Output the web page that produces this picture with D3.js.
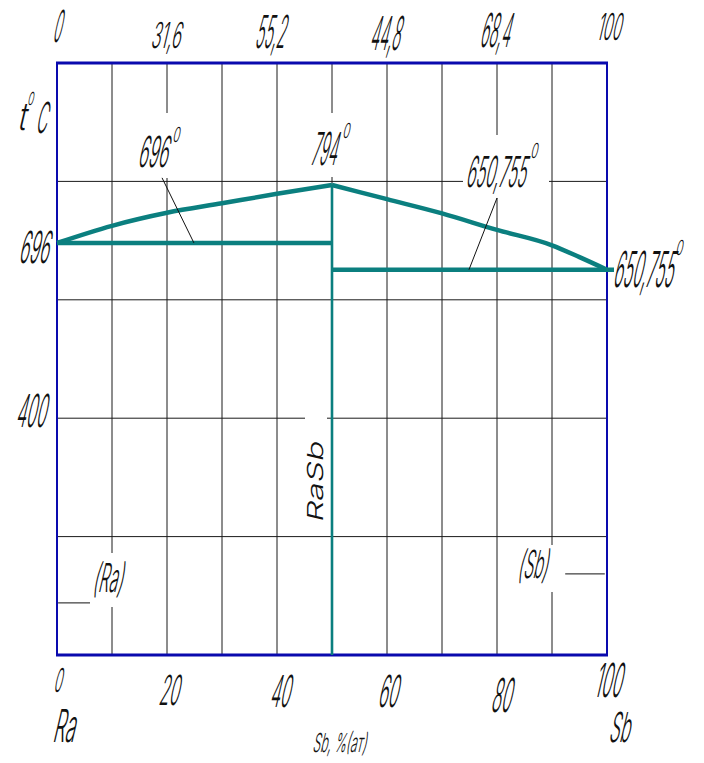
<!DOCTYPE html>
<html>
<head>
<meta charset="utf-8">
<script src="https://cdn.jsdelivr.net/npm/d3@7/dist/d3.min.js"></script>
<style>
  html, body { margin: 0; padding: 0; background: #fff; }
  svg { display: block; }
  .lbl { font-family: Inter, Roboto, "Open Sans", sans-serif; font-weight: 300; fill: #111; }
</style>
</head>
<body>
<svg id="chart" width="704" height="763"></svg>
<script>
// Ra–Sb phase diagram: composition in at.% Sb, temperature in °C

// Composition ticks (bottom, at.%) and the matching top labels (wt.%)
const compTicks = [0, 20, 40, 60, 80, 100];
const bottomTickLabels = ["0", "20", "40", "60", "80", "100"];
const topTickLabels = ["0", "31,6", "55,2", "44,8", "68,4", "100"];

// Temperature grid and labelled temperatures
const tempGrid = [200, 400, 600, 800];
const tempTickValues = [696, 400];
const tempTickLabels = ["696", "400"];

// Liquidus, Ra side to the RaSb maximum
const liqLeftSb = [0, 10, 20, 30, 40, 50];
const liqLeftT  = [696, 725, 747, 763, 779, 794];
// Liquidus, RaSb maximum to the Sb side
const liqRightSb = [50, 60, 70, 80, 90, 95, 100];
const liqRightT  = [794, 770, 746, 718, 692, 672, 650.755];

// Invariant horizontals and the congruent compound RaSb
const eutecticLeft = { from: 0, to: 50, t: 696 };
const eutecticRight = { from: 50, to: 100, t: 650.755 };
const compoundSb = 50;
const compoundTop = 794;

// Leader lines for the temperature callouts and phase fields
const leader696 = [[19.1, 806], [24.9, 696]];
const leader650 = [[80, 772], [74.9, 650.755]];
const leaderRa = [[0.2, 88], [6, 88]];
const leaderSb = [[92.4, 137], [99.6, 137]];

const svg = d3.select("#chart");
const x = d3.scaleLinear().domain([0, 100]).range([57, 607]);
const y = d3.scaleLinear().domain([0, 1000]).range([655, 63]);

const TEAL = "#0b7f7f";
const BLUE = "#0a0aae";
const GRID = "#1a1a1a";

// Narrow slanted drafting-style text: cap height h, drawn width w
function label(g, str, opt) {
  const size = opt.h / 0.727;
  const rot = opt.rotate ? ` rotate(${opt.rotate})` : "";
  const t = g.append("text")
    .attr("class", "lbl")
    .attr("font-size", size)
    .attr("text-anchor", opt.anchor || "start")
    .text(str);
  const natural = t.node().getComputedTextLength() || 1;
  const sx = opt.w / natural;
  t.attr("transform", `translate(${opt.x},${opt.base})${rot} skewX(-13) scale(${sx},1)`);
  return t;
}

// Grid
const grid = svg.append("g");
grid.selectAll("line.v").data(d3.range(10, 100, 10)).join("line")
  .attr("x1", d => x(d)).attr("x2", d => x(d))
  .attr("y1", y(1000)).attr("y2", y(0))
  .attr("stroke", GRID).attr("stroke-width", 1);
grid.selectAll("line.h").data(tempGrid).join("line")
  .attr("x1", x(0)).attr("x2", x(100))
  .attr("y1", d => y(d)).attr("y2", d => y(d))
  .attr("stroke", GRID).attr("stroke-width", 1);

// Clear space behind labels that sit on grid lines
const clears = [
  [160, 113, 16, 65],   // 696°
  [300, 113, 45, 64],   // 794°
  [463, 135, 86, 63],   // 650,755°
  [305, 410, 22, 120],  // RaSb
  [91, 553, 35, 54],    // (Ra)
  [512, 545, 48, 47]    // (Sb)
];
svg.append("g").selectAll("rect").data(clears).join("rect")
  .attr("x", d => d[0]).attr("y", d => d[1])
  .attr("width", d => d[2]).attr("height", d => d[3])
  .attr("fill", "#fff");

// Frame
const frame = svg.append("g").attr("stroke", BLUE).attr("fill", "none");
frame.append("line").attr("x1", x(0) - 1).attr("x2", x(100) + 1).attr("y1", y(1000)).attr("y2", y(1000)).attr("stroke-width", 3);
frame.append("line").attr("x1", x(0) - 1).attr("x2", x(100) + 1).attr("y1", y(0)).attr("y2", y(0)).attr("stroke-width", 3);
frame.append("line").attr("x1", x(0)).attr("x2", x(0)).attr("y1", y(1000)).attr("y2", y(0)).attr("stroke-width", 2);
frame.append("line").attr("x1", x(100)).attr("x2", x(100)).attr("y1", y(1000)).attr("y2", y(0)).attr("stroke-width", 2);

// Phase boundaries
const line = d3.line().x(d => x(d[0])).y(d => y(d[1])).curve(d3.curveMonotoneX);
const plot = svg.append("g").attr("fill", "none").attr("stroke", TEAL);
plot.append("path").datum(liqLeftSb.map((s, i) => [s, liqLeftT[i]]))
  .attr("d", line).attr("stroke-width", 4.5);
plot.append("path").datum(liqRightSb.map((s, i) => [s, liqRightT[i]]))
  .attr("d", line).attr("stroke-width", 4.5);
plot.append("line")
  .attr("x1", x(eutecticLeft.from)).attr("x2", x(eutecticLeft.to))
  .attr("y1", y(eutecticLeft.t)).attr("y2", y(eutecticLeft.t))
  .attr("stroke-width", 4.5);
plot.append("line")
  .attr("x1", x(eutecticRight.from)).attr("x2", x(eutecticRight.to) + 7)
  .attr("y1", y(eutecticRight.t)).attr("y2", y(eutecticRight.t))
  .attr("stroke-width", 4.5);
plot.append("line")
  .attr("x1", x(compoundSb)).attr("x2", x(compoundSb))
  .attr("y1", y(compoundTop)).attr("y2", y(0))
  .attr("stroke-width", 2.6);

// Leader lines
const leaders = svg.append("g").attr("stroke", "#111").attr("stroke-width", 1);
[leader696, leader650, leaderRa, leaderSb].forEach(p => {
  leaders.append("line")
    .attr("x1", x(p[0][0])).attr("y1", y(p[0][1]))
    .attr("x2", x(p[1][0])).attr("y2", y(p[1][1]));
});

const txt = svg.append("g");

// Top composition labels (wt.%)
const topLayout = [
  { dx: -1, base: 42, h: 32, w: 8 },
  { dx: -2, base: 48, h: 26, w: 30 },
  { dx: -8, base: 48, h: 33, w: 30 },
  { dx: -3, base: 50, h: 34, w: 30 },
  { dx: -3, base: 47, h: 34, w: 30 },
  { dx: 1, base: 40, h: 27, w: 24 }
];
compTicks.forEach((v, i) => {
  const L = topLayout[i];
  label(txt, topTickLabels[i], { x: x(v) + L.dx, base: L.base, h: L.h, w: L.w, anchor: "middle" });
});

// Bottom composition labels (at.%)
const bottomLayout = [
  { dx: 0, base: 692, h: 24, w: 8 },
  { dx: 1, base: 705, h: 30, w: 20 },
  { dx: 2, base: 707, h: 32, w: 20 },
  { dx: 0, base: 707, h: 32, w: 20 },
  { dx: 3, base: 712, h: 34, w: 20 },
  { dx: 0, base: 697, h: 34, w: 27 }
];
compTicks.forEach((v, i) => {
  const L = bottomLayout[i];
  label(txt, bottomTickLabels[i], { x: x(v) + L.dx, base: L.base, h: L.h, w: L.w, anchor: "middle" });
});

// Component names and axis title
label(txt, "Ra", { x: 52, base: 742, h: 33, w: 22 });
label(txt, "Sb", { x: 608, base: 742, h: 30, w: 21 });
label(txt, "Sb, %(ат)", { x: 312, base: 752, h: 19, w: 54 });

// Temperature axis labels
const tempLayout = [{ h: 32, w: 30, right: 48, dy: 20 }, { h: 33, w: 30, right: 45, dy: 9 }];
tempTickValues.forEach((t, i) => {
  const L = tempLayout[i];
  label(txt, tempTickLabels[i], { x: L.right, base: y(t) + L.dy, h: L.h, w: L.w, anchor: "end" });
});
label(txt, "t", { x: 17, base: 130, h: 28, w: 8 });
label(txt, "0", { x: 27, base: 105, h: 13, w: 6 });
label(txt, "C", { x: 35, base: 133, h: 31, w: 11 });

// Temperature callouts
function degree(str, tx, tBase, tH, tW, sx, sBase) {
  label(txt, str, { x: tx, base: tBase, h: tH, w: tW });
  label(txt, "0", { x: sx, base: sBase, h: 15, w: 7 });
}
degree(String(eutecticLeft.t), 137, 167, 31, 30, 172, 142);
degree(String(compoundTop), 310, 165, 33, 26, 342, 138);
degree(String(eutecticRight.t).replace(".", ","), 465, 187, 31, 60, 530, 158);
degree(String(eutecticRight.t).replace(".", ","), 612, 287, 36, 60, 675, 255);

// Phase labels
label(txt, "RaSb", { x: 323, base: 523, h: 16, w: 81, rotate: -90 });
label(txt, "(Ra)", { x: 92, base: 592, h: 29, w: 30 });
label(txt, "(Sb)", { x: 517, base: 578, h: 28, w: 30 });
</script>
</body>
</html>
